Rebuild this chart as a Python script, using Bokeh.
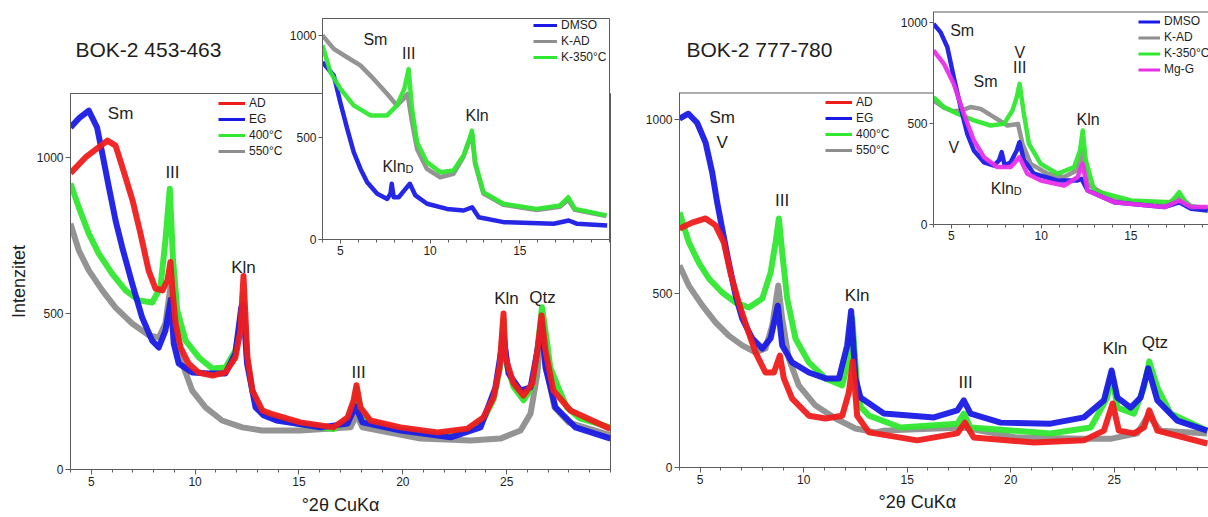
from bokeh.plotting import figure
from bokeh.models import Range1d, FixedTicker, Legend, LegendItem, Span, Row, Title
from bokeh.core.properties import value
from bokeh.embed import file_html
from bokeh.resources import INLINE

# ---------------- data: panel 1 (BOK-2 453-463) ----------------
P1_AD_X = [4.0, 4.72, 5.35, 5.78, 6.17, 6.55, 6.99, 7.37, 7.76, 8.09, 8.43, 8.67, 8.81, 8.91, 9.06, 9.3, 9.68, 10.16, 10.84, 11.46, 11.94, 12.18, 12.33, 12.52, 12.76, 13.24, 13.63, 15.07, 16.66, 17.34, 17.63, 17.77, 17.96, 18.44, 19.89, 21.67, 23.11, 23.88, 24.37, 24.66, 24.85, 24.94, 25.33, 25.81, 26.24, 26.48, 26.68, 26.87, 27.25, 28.07, 30.0]
P1_AD_Y = [950, 1000, 1032, 1054, 1038, 958, 862, 756, 638, 580, 574, 606, 665, 574, 468, 391, 340, 311, 301, 311, 359, 445, 620, 359, 253, 189, 179, 151, 135, 167, 221, 270, 199, 157, 135, 119, 131, 167, 231, 327, 500, 359, 276, 237, 276, 381, 494, 381, 253, 189, 130]
P1_EG_X = [4.0, 4.4, 4.88, 5.28, 5.53, 5.85, 6.17, 6.49, 6.97, 7.45, 7.93, 8.25, 8.57, 8.83, 8.97, 9.21, 9.86, 10.66, 11.46, 11.94, 12.22, 12.31, 12.5, 12.91, 13.31, 13.92, 16.04, 17.34, 17.72, 18.06, 19.89, 22.3, 23.74, 24.46, 24.85, 25.09, 25.67, 26.15, 26.48, 26.68, 26.87, 27.35, 28.31, 30.0]
P1_EG_Y = [1096, 1125, 1150, 1096, 1013, 904, 798, 712, 596, 487, 413, 391, 445, 545, 404, 340, 311, 308, 308, 372, 519, 530, 340, 199, 173, 157, 135, 147, 203, 151, 125, 103, 135, 263, 430, 308, 253, 263, 381, 468, 327, 199, 135, 99]
P1_400_X = [4.0, 4.4, 4.88, 5.36, 6.0, 6.65, 7.29, 7.93, 8.33, 8.57, 8.78, 8.93, 9.14, 9.54, 10.18, 10.82, 11.46, 11.94, 12.18, 12.31, 12.5, 12.76, 13.24, 13.63, 15.07, 16.66, 17.34, 17.63, 17.77, 17.96, 18.44, 19.89, 21.67, 23.11, 23.88, 24.37, 24.66, 24.85, 24.94, 25.33, 25.81, 26.24, 26.48, 26.7, 26.92, 27.1, 27.5, 27.9, 28.5, 30.0]
P1_400_Y = [917, 840, 756, 692, 628, 574, 542, 535, 583, 734, 900, 679, 510, 413, 359, 324, 327, 381, 470, 560, 359, 250, 185, 170, 145, 130, 160, 210, 262, 195, 150, 128, 112, 125, 160, 225, 320, 480, 350, 265, 222, 265, 380, 520, 420, 327, 260, 199, 165, 135]
P1_550_X = [4.0, 4.4, 4.88, 5.53, 6.17, 6.97, 7.77, 8.25, 8.57, 8.81, 9.06, 9.38, 9.86, 10.5, 11.3, 12.27, 13.23, 15.07, 17.48, 17.77, 18.06, 20.85, 23.26, 24.7, 25.67, 26.15, 26.48, 26.68, 26.92, 27.3, 28.0, 30.0]
P1_550_Y = [788, 702, 638, 574, 519, 468, 430, 423, 468, 583, 468, 340, 253, 199, 157, 135, 125, 125, 135, 175, 135, 99, 93, 99, 125, 179, 308, 468, 327, 200, 150, 110]
P1_SERIES = ["AD", "EG", "400°C", "550°C"]
P1_LABEL_TEXT = ["Sm", "III", "Kln", "III", "Kln", "Qtz"]
P1_LABEL_X = [6.41, 8.91, 12.33, 17.87, 24.99, 26.73]
P1_LABEL_Y = [1142, 953, 647, 311, 548, 551]

# ---------------- data: panel 1 inset ----------------
I1_DMSO_X = [4.0, 4.63, 4.99, 5.38, 5.74, 6.12, 6.49, 7.05, 7.61, 7.79, 7.86, 7.97, 8.25, 8.63, 8.87, 9.18, 9.83, 10.94, 11.87, 12.34, 12.71, 14.1, 16.89, 17.73, 18.2, 19.87]
I1_DMSO_Y = [869, 804, 673, 542, 428, 346, 281, 224, 199, 224, 273, 207, 207, 248, 273, 216, 175, 150, 142, 158, 109, 85, 77, 93, 77, 69]
I1_KAD_X = [4.0, 4.63, 5.37, 6.11, 6.85, 7.6, 8.15, 8.52, 8.74, 8.99, 9.27, 9.82, 10.56, 11.3, 11.86, 12.19, 12.33, 12.51, 12.97, 14.08, 15.94, 17.24, 17.7, 18.07, 19.83]
I1_KAD_Y = [1000, 934, 893, 853, 787, 714, 657, 689, 714, 575, 444, 346, 305, 322, 405, 485, 520, 370, 225, 170, 145, 160, 195, 145, 115]
I1_K350_X = [4.0, 4.44, 5.0, 5.74, 6.67, 7.6, 8.15, 8.56, 8.8, 8.99, 9.27, 9.82, 10.56, 11.3, 11.86, 12.19, 12.33, 12.51, 12.97, 14.08, 15.94, 17.24, 17.7, 18.07, 19.83]
I1_K350_Y = [951, 820, 738, 657, 608, 608, 657, 738, 835, 640, 477, 379, 330, 338, 412, 493, 534, 379, 232, 175, 150, 167, 207, 150, 118]
I1_SERIES = ["DMSO", "K-AD", "K-350°C"]
I1_LABEL_TEXT = ["Sm", "III", "Kln"]
I1_LABEL_X = [6.95, 8.81, 12.62]
I1_LABEL_Y = [980, 910, 608]
I1_KLND_X = [8.63]
I1_KLND_Y = [317]

# ---------------- data: panel 2 (BOK-2 777-780) ----------------
P2_AD_X = [4.0, 4.61, 5.26, 5.74, 6.14, 6.46, 6.86, 7.27, 7.67, 8.15, 8.56, 8.85, 9.04, 9.44, 10.25, 11.05, 11.86, 12.18, 12.37, 12.58, 13.15, 15.48, 17.42, 17.78, 18.21, 21.12, 23.53, 24.5, 24.92, 25.22, 25.95, 26.43, 26.69, 27.08, 29.49]
P2_AD_Y = [687, 704, 716, 696, 647, 560, 474, 400, 331, 273, 273, 322, 256, 198, 149, 141, 149, 216, 305, 149, 101, 78, 98, 129, 86, 72, 78, 106, 184, 106, 98, 115, 164, 106, 69]
P2_EG_X = [4.0, 4.43, 4.85, 5.26, 5.58, 5.82, 6.06, 6.38, 6.71, 7.03, 7.51, 8.0, 8.4, 8.75, 8.96, 9.44, 10.25, 11.05, 11.7, 12.1, 12.29, 12.5, 12.74, 13.87, 16.29, 17.42, 17.73, 18.06, 19.51, 21.92, 23.53, 24.5, 24.87, 25.15, 25.79, 26.27, 26.64, 27.08, 28.04, 29.49]
P2_EG_Y = [1003, 1017, 991, 934, 848, 762, 687, 589, 494, 428, 371, 342, 371, 465, 351, 302, 273, 256, 256, 351, 450, 256, 201, 155, 144, 164, 193, 155, 129, 126, 144, 193, 279, 201, 172, 201, 285, 193, 135, 106]
P2_400_X = [4.0, 4.45, 4.93, 5.42, 6.06, 6.71, 7.35, 8.0, 8.4, 8.64, 8.8, 8.96, 9.2, 9.6, 10.25, 11.05, 11.86, 12.18, 12.34, 12.58, 12.74, 13.15, 14.68, 17.42, 17.73, 18.06, 21.92, 23.86, 24.66, 24.87, 25.15, 25.95, 26.43, 26.69, 27.08, 27.72, 29.49]
P2_400_Y = [733, 647, 589, 543, 503, 474, 460, 486, 560, 647, 716, 618, 486, 371, 302, 256, 236, 313, 430, 236, 175, 149, 115, 126, 155, 115, 98, 115, 201, 270, 172, 155, 230, 305, 230, 155, 106]
P2_550_X = [4.0, 4.45, 5.1, 5.74, 6.38, 7.03, 7.67, 8.15, 8.48, 8.77, 8.96, 9.28, 9.76, 10.57, 11.54, 12.5, 13.47, 13.87, 17.73, 20.31, 23.53, 24.87, 26.11, 26.64, 27.24, 29.49]
P2_550_Y = [581, 523, 466, 417, 379, 351, 331, 342, 408, 523, 428, 313, 236, 178, 141, 112, 101, 106, 115, 86, 83, 83, 98, 150, 106, 98]
P2_SERIES = ["AD", "EG", "400°C", "550°C"]
P2_LABEL_TEXT = ["Sm", "V", "III", "Kln", "III", "Kln", "Qtz"]
P2_LABEL_X = [6.06, 6.06, 8.96, 12.58, 17.82, 25.03, 26.96]
P2_LABEL_Y = [1007, 935, 767, 494, 245, 341, 360]

# ---------------- data: panel 2 inset ----------------
I2_DMSO_X = [4.0, 4.39, 4.77, 5.13, 5.51, 5.88, 6.25, 6.81, 7.37, 7.65, 7.8, 7.97, 8.3, 8.64, 8.79, 9.05, 9.6, 10.91, 12.03, 12.25, 12.59, 14.07, 16.87, 17.7, 18.36, 19.29]
I2_DMSO_Y = [993, 952, 878, 729, 581, 449, 366, 308, 292, 317, 358, 292, 308, 366, 407, 317, 251, 218, 218, 226, 168, 110, 86, 110, 78, 69]
I2_KAD_X = [4.0, 4.58, 5.13, 5.51, 6.07, 6.63, 7.37, 8.12, 8.71, 8.96, 9.42, 10.35, 11.28, 12.03, 12.31, 12.59, 14.07, 16.87, 17.7, 18.36, 19.29]
I2_KAD_Y = [615, 578, 560, 564, 581, 572, 531, 490, 498, 399, 300, 251, 235, 270, 370, 200, 120, 95, 140, 90, 80]
I2_K350_X = [4.0, 4.58, 5.32, 6.25, 7.18, 7.93, 8.4, 8.64, 8.8, 9.01, 9.32, 9.98, 10.91, 11.84, 12.17, 12.32, 12.49, 12.96, 15.01, 17.24, 17.7, 18.17, 19.29]
I2_K350_Y = [630, 581, 548, 515, 490, 498, 564, 630, 696, 564, 399, 300, 251, 284, 366, 465, 317, 168, 119, 110, 160, 94, 69]
I2_MGG_X = [4.0, 4.58, 5.13, 5.69, 6.25, 6.81, 7.56, 8.3, 8.79, 9.23, 9.98, 11.28, 12.03, 12.31, 12.59, 14.07, 16.87, 17.7, 18.36, 19.29]
I2_MGG_Y = [861, 795, 696, 548, 416, 333, 284, 284, 333, 251, 218, 193, 234, 300, 168, 110, 86, 119, 86, 86]
I2_SERIES = ["DMSO", "K-AD", "K-350°C", "Mg-G"]
I2_LABEL_TEXT = ["Sm", "Sm", "V", "III", "Kln", "V"]
I2_LABEL_X = [5.6, 6.9, 8.81, 8.81, 12.62, 5.13]
I2_LABEL_Y = [960, 709, 849, 779, 520, 383]
I2_KLND_X = [8.48]
I2_KLND_Y = [135]

MAIN_XTICKS = [5, 10, 15, 20, 25]
MAIN_XMINOR = list(range(4, 31))
MAIN_YTICKS = [0, 500, 1000]
INSET_XTICKS = [5, 10, 15]
TITLES = ["BOK-2 453-463", "BOK-2 777-780"]
X_TITLE = "°2θ CuKα"
Y_TITLE = "Intenzitet"

# ---------------- style ----------------
FONT = "Liberation Sans"
TXT = "#1e1e1e"
AXC = "#5c5c5c"
C_RED = "#f01c1c"
C_BLUE = "#1a1ae6"
C_GREEN = "#30e830"
C_GRAY = "#8e8e8e"
C_MAG = "#e830e8"
NAN = float("nan")


def style_axes(p, xticks, minor, tick_font, tick_out):
    p.xaxis.ticker = FixedTicker(ticks=xticks, minor_ticks=minor)
    p.yaxis.ticker = FixedTicker(ticks=MAIN_YTICKS)
    for ax in (p.xaxis[0], p.yaxis[0]):
        ax.axis_line_color = AXC
        ax.major_tick_line_color = AXC
        ax.major_tick_in = 0
        ax.major_tick_out = tick_out
        ax.major_label_standoff = 2
        ax.major_label_text_font = FONT
        ax.major_label_text_font_size = tick_font
        ax.major_label_text_color = TXT
    p.xaxis.minor_tick_line_color = AXC
    p.xaxis.minor_tick_in = 0
    p.xaxis.minor_tick_out = 3
    p.yaxis.minor_tick_line_color = None
    p.grid.visible = False


def add_curves(p, series, colors, lw):
    for (xs, ys), c in zip(series, colors):
        p.line(xs, ys, line_color=c, line_width=lw, line_join="round", line_alpha=0.95)


def add_legend(p, labels, colors, loc, gw, gh, lw):
    items = []
    for lab, c in zip(labels, colors):
        r = p.line([NAN], [NAN], line_color=c, line_width=lw)
        items.append(LegendItem(label=lab, renderers=[r]))
    lg = Legend(items=items, location=loc, border_line_color=None,
                background_fill_alpha=0, padding=0, margin=0, spacing=2,
                glyph_width=gw, glyph_height=gh, label_height=gh,
                label_standoff=4, label_text_font=FONT,
                label_text_font_size="12px", label_text_color=TXT)
    p.add_layout(lg)


def add_labels(p, xs, ys, texts, size):
    p.text(x=xs, y=ys, text=texts, text_font=value(FONT), text_font_size=size,
           text_color=TXT, text_align="center", text_baseline="middle")


def add_klnd(p, xs, ys, size, sub):
    p.text(x=xs, y=ys, text=["Kln"] * len(xs), text_font=value(FONT), text_font_size=size,
           text_color=TXT, text_align="right", text_baseline="bottom")
    p.text(x=xs, y=ys, text=["D"] * len(xs), text_font=value(FONT), text_font_size=sub,
           text_color=TXT, text_align="left", text_baseline="bottom")


def make_title(text, size, standoff, offset, valign="middle"):
    return Title(text=text, align="left", offset=offset, standoff=standoff,
                 vertical_align=valign, text_font=FONT, text_font_size=size,
                 text_font_style="normal", text_color=TXT)


# ---------------- panel 1 ----------------
p1 = figure(width=615, height=517, x_range=Range1d(4, 30), y_range=Range1d(0, 1205),
            output_backend="svg", toolbar_location=None, frame_align=False,
            min_border_left=70, min_border_right=5, min_border_top=93, min_border_bottom=48,
            title=make_title(TITLES[0], "21px", 64, 5))
style_axes(p1, MAIN_XTICKS, MAIN_XMINOR, "12px", 5)
p1.outline_line_color = AXC
p1.xaxis.axis_label = X_TITLE
p1.yaxis.axis_label = Y_TITLE
for ax, sz, so in ((p1.xaxis[0], "18px", 6), (p1.yaxis[0], "18px", 5)):
    ax.axis_label_text_font = FONT
    ax.axis_label_text_font_size = sz
    ax.axis_label_text_font_style = "normal"
    ax.axis_label_text_color = TXT
    ax.axis_label_standoff = so
add_curves(p1, [(P1_550_X, P1_550_Y), (P1_400_X, P1_400_Y), (P1_EG_X, P1_EG_Y), (P1_AD_X, P1_AD_Y)],
           [C_GRAY, C_GREEN, C_BLUE, C_RED], 6)
add_legend(p1, P1_SERIES, [C_RED, C_BLUE, C_GREEN, C_GRAY], (148, 311), 27, 14, 3)
add_labels(p1, P1_LABEL_X, P1_LABEL_Y, P1_LABEL_TEXT, "17px")

# ---------------- inset 1 ----------------
i1 = figure(width=330, height=253, x_range=Range1d(4, 20), y_range=Range1d(0, 1083),
            output_backend="svg", toolbar_location=None, frame_align=False,
            min_border_left=40, min_border_right=3, min_border_top=4, min_border_bottom=28,
            border_fill_alpha=0, background_fill_color="white", margin=(14, 3, 0, -333))
style_axes(i1, INSET_XTICKS, list(range(4, 21)), "12px", 4)
i1.outline_line_color = AXC
add_curves(i1, [(I1_DMSO_X, I1_DMSO_Y), (I1_KAD_X, I1_KAD_Y), (I1_K350_X, I1_K350_Y)],
           [C_BLUE, C_GRAY, C_GREEN], 4.5)
add_legend(i1, I1_SERIES, [C_BLUE, C_GRAY, C_GREEN], (211, 175), 24, 12, 3)
add_labels(i1, I1_LABEL_X, I1_LABEL_Y, I1_LABEL_TEXT, "16px")
add_klnd(i1, I1_KLND_X, I1_KLND_Y, "16px", "11px")

# ---------------- panel 2 ----------------
p2 = figure(width=593, height=517, x_range=Range1d(4, 29.55), y_range=Range1d(0, 1078),
            output_backend="svg", toolbar_location=None, frame_align=False,
            min_border_left=64, min_border_right=0, min_border_top=92, min_border_bottom=50,
            title=make_title(TITLES[1], "21px", 62, 7))
style_axes(p2, MAIN_XTICKS, MAIN_XMINOR, "12px", 5)
p2.outline_line_color = None
p2.add_layout(Span(location=1078, dimension="width", line_color=AXC, line_width=2))
p2.add_layout(make_title(X_TITLE, "18px", 6, 199, "bottom"), "below")
add_curves(p2, [(P2_550_X, P2_550_Y), (P2_400_X, P2_400_Y), (P2_EG_X, P2_EG_Y), (P2_AD_X, P2_AD_Y)],
           [C_GRAY, C_GREEN, C_BLUE, C_RED], 6)
add_legend(p2, P2_SERIES, [C_RED, C_BLUE, C_GREEN, C_GRAY], (146, 310), 27, 14, 3)
add_labels(p2, P2_LABEL_X, P2_LABEL_Y, P2_LABEL_TEXT, "17px")

# ---------------- inset 2 ----------------
i2 = figure(width=315, height=244, x_range=Range1d(4, 19.33), y_range=Range1d(0, 1054),
            output_backend="svg", toolbar_location=None, frame_align=False,
            min_border_left=40, min_border_right=0, min_border_top=3, min_border_bottom=28,
            border_fill_alpha=0, background_fill_color="white", margin=(8, 0, 0, -315))
style_axes(i2, INSET_XTICKS, list(range(4, 21)), "12px", 4)
i2.outline_line_color = None
i2.add_layout(Span(location=1054, dimension="width", line_color=AXC, line_width=2))
add_curves(i2, [(I2_KAD_X, I2_KAD_Y), (I2_K350_X, I2_K350_Y), (I2_DMSO_X, I2_DMSO_Y), (I2_MGG_X, I2_MGG_Y)],
           [C_GRAY, C_GREEN, C_BLUE, C_MAG], 4.5)
add_legend(i2, I2_SERIES, [C_BLUE, C_GRAY, C_GREEN, C_MAG], (205, 148), 22, 13, 3)
add_labels(i2, I2_LABEL_X, I2_LABEL_Y, I2_LABEL_TEXT, "16px")
add_klnd(i2, I2_KLND_X, I2_KLND_Y, "16px", "11px")

layout = Row(children=[p1, i1, p2, i2], spacing=0)
open("out.html", "w").write(file_html(layout, INLINE))
